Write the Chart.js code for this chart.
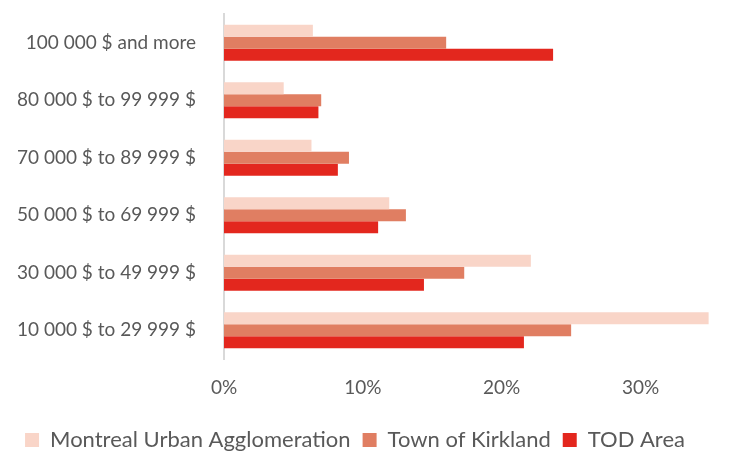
<!DOCTYPE html>
<html>
<head>
<meta charset="utf-8">
<script src="https://cdn.jsdelivr.net/npm/chart.js@4"></script>
<style>
  html, body { margin: 0; padding: 0; background: #fff; }
  #wrap { width: 732px; height: 457px; }
</style>
</head>
<body>
<div id="wrap"><canvas id="chart" width="732" height="457"></canvas></div>
<script>
// income brackets, top to bottom
const categories = [
    '100 000 $ and more',
    '80 000 $ to 99 999 $',
    '70 000 $ to 89 999 $',
    '50 000 $ to 69 999 $',
    '30 000 $ to 49 999 $',
    '10 000 $ to 29 999 $'
]
const seriesNames = ['Montreal Urban Agglomeration', 'Town of Kirkland', 'TOD Area']
const montrealValues = [6.4, 4.3, 6.3, 11.9, 22.1, 34.9]
const kirklandValues = [16.0, 7.0, 9.0, 13.1, 17.3, 25.0]
const todValues = [23.7, 6.8, 8.2, 11.1, 14.4, 21.6]
const xTicks = [0, 10, 20, 30]

const colors = ['#F9D5C8', '#E07E62', '#E3271E']
const textColor = '#595959'
const fontFamily = 'Lato, "Open Sans", sans-serif'

function makeSet(label, values, color) {
    return {
        label: label,
        data: values,
        backgroundColor: color,
        borderWidth: 0,
        barPercentage: 1,
        categoryPercentage: 0.63
    }
}

const data = {
    labels: categories,
    datasets: [
        makeSet(seriesNames[0], montrealValues, colors[0]),
        makeSet(seriesNames[1], kirklandValues, colors[1]),
        makeSet(seriesNames[2], todValues, colors[2])
    ]
}

const config = {
    type: 'bar',
    data: data,
    options: {
        indexAxis: 'y',
        responsive: false,
        animation: false,
        layout: { padding: { top: 14, right: 22, left: 0, bottom: -4 } },
        plugins: {
            tooltip: { enabled: false },
            legend: {
                position: 'bottom',
                labels: {
                    color: textColor,
                    font: { family: fontFamily, size: 22 },
                    boxWidth: 14,
                    boxHeight: 14,
                    padding: 12
                }
            }
        },
        scales: {
            x: {
                min: 0,
                max: 35,
                afterFit: s => { s.height = 58 },
                afterBuildTicks: s => { s.ticks = xTicks.map(v => ({ value: v })) },
                grid: { display: false },
                border: { display: false },
                ticks: {
                    color: textColor,
                    padding: 9,
                    font: { family: fontFamily, size: 19 },
                    callback: v => v + '%'
                }
            },
            y: {
                afterFit: s => {
                    s.width = 224
                    s.paddingTop = 0
                    s.paddingBottom = 0
                },
                grid: { display: false },
                border: { color: '#D9D9D9', width: 2 },
                ticks: {
                    color: textColor,
                    padding: 20,
                    font: { family: fontFamily, size: 19 }
                }
            }
        }
    }
}

let ctx = document.getElementById('chart').getContext('2d')
new Chart(ctx, config)
</script>
</body>
</html>
